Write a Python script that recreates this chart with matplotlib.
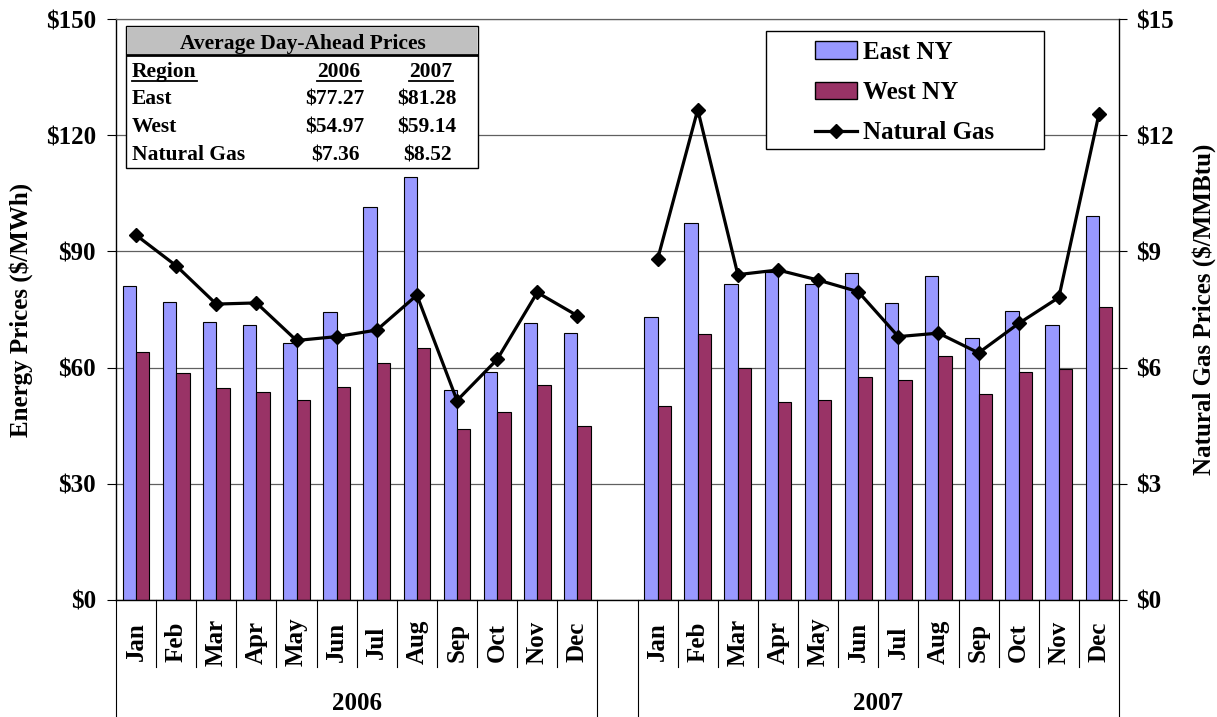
import numpy as np
import matplotlib
matplotlib.use("Agg")
import matplotlib.pyplot as plt
import matplotlib.transforms as mtransforms
from matplotlib.patches import Rectangle, Patch
from matplotlib.lines import Line2D

# ---------------- data ----------------
months = ["Jan", "Feb", "Mar", "Apr", "May", "Jun",
          "Jul", "Aug", "Sep", "Oct", "Nov", "Dec"]
years = ["2006", "2007"]

east_2006 = [81.1, 77.0, 71.7, 71.0, 66.4, 74.4, 101.5, 109.3, 54.1, 58.9, 71.4, 69.0]
west_2006 = [64.0, 58.6, 54.7, 53.7, 51.6, 54.9, 61.2, 65.1, 44.1, 48.5, 55.4, 45.0]
gas_2006 = [9.42, 8.63, 7.64, 7.67, 6.70, 6.80, 6.97, 7.87, 5.15, 6.21, 7.94, 7.34]

east_2007 = [73.0, 97.3, 81.7, 84.8, 81.6, 84.4, 76.8, 83.7, 67.6, 74.7, 71.1, 99.1]
west_2007 = [50.0, 68.8, 60.0, 51.2, 51.7, 57.7, 56.9, 63.0, 53.3, 58.8, 59.7, 75.6]
gas_2007 = [8.80, 12.66, 8.40, 8.52, 8.26, 7.96, 6.80, 6.89, 6.38, 7.14, 7.81, 12.55]

series_labels = ["East NY", "West NY", "Natural Gas"]

table_title = "Average Day-Ahead Prices"
table_header = ["Region", "2006", "2007"]
table_regions = ["East", "West", "Natural Gas"]
table_2006 = ["$77.27", "$54.97", "$7.36"]
table_2007 = ["$81.28", "$59.14", "$8.52"]

left_ticks = [0, 30, 60, 90, 120, 150]
right_ticks = [0, 3, 6, 9, 12, 15]
left_label = "Energy Prices ($/MWh)"
right_label = "Natural Gas Prices ($/MMBtu)"

# ---------------- style ----------------
EAST_C = "#9999FF"
WEST_C = "#993366"
GRID_C = "#606060"
plt.rcParams["font.family"] = ["Liberation Serif", "DejaVu Serif"]
plt.rcParams["font.weight"] = "bold"

W, H = 1217, 717
L, R, T, B = 116, 1119, 19, 600


def fx(px):
    return px / W


def fy(py):
    return 1 - py / H


fig = plt.figure(figsize=(W / 100, H / 100), dpi=100)
ax = fig.add_axes([fx(L), fy(B), (R - L) / W, (B - T) / H])
ax2 = ax.twinx()

n_m = len(months)
x06 = np.arange(n_m)
x07 = np.arange(n_m + 1, 2 * n_m + 1)
n_cat = 2 * n_m + 1
bw = 1 / 3

for xs, e, w in [(x06, east_2006, west_2006), (x07, east_2007, west_2007)]:
    ax.bar(xs - bw / 2, e, bw, color=EAST_C, edgecolor="black", linewidth=0.8, zorder=2)
    ax.bar(xs + bw / 2, w, bw, color=WEST_C, edgecolor="black", linewidth=0.8, zorder=2)

gx = np.concatenate([x06, [n_m], x07])
gy = np.concatenate([gas_2006, [np.nan], gas_2007])
ax2.plot(gx, gy, color="black", lw=2.3, marker="D", ms=7, mfc="black", mec="black", zorder=3)

ax.set_xlim(-0.5, n_cat - 0.5)
ax.set_ylim(left_ticks[0], left_ticks[-1])
ax2.set_ylim(right_ticks[0], right_ticks[-1])
ax.set_yticks(left_ticks)
ax.set_yticklabels([f"${v}" for v in left_ticks])
ax2.set_yticks(right_ticks)
ax2.set_yticklabels([f"${v}" for v in right_ticks])

ax.yaxis.grid(True, color=GRID_C, lw=0.9)
ax.set_axisbelow(True)
ax.tick_params(axis="y", direction="out", length=6.5, width=0.8, pad=8, labelsize=18)
ax2.tick_params(axis="y", direction="out", length=5.5, width=0.8, pad=7, labelsize=18)
ax.set_xticks([])
ax2.set_xticks([])

ax.spines["top"].set_color(GRID_C)
ax.spines["top"].set_linewidth(0.9)
ax.spines["right"].set_visible(False)
for s in ["top", "left", "bottom"]:
    ax2.spines[s].set_visible(False)
ax.spines["left"].set_linewidth(1.0)
ax.spines["bottom"].set_linewidth(1.0)
ax2.spines["right"].set_linewidth(1.0)

# ---------------- multilevel category axis ----------------
trans = mtransforms.blended_transform_factory(ax.transData, ax.transAxes)
ax_h = B - T
month_sep_y = -(667 - B) / ax_h
full_sep_y = -(H + 5 - B) / ax_h
label_y = -(642 - B) / ax_h
year_y = -(703 - B) / ax_h

for xs, yr in [(x06, years[0]), (x07, years[1])]:
    for k, xc in enumerate(xs):
        ax.text(xc, label_y, months[k], rotation=90, ha="center", va="center",
                fontsize=18, fontweight="bold", transform=trans, clip_on=False)
    for b in xs[1:]:
        ax.add_line(Line2D([b - 0.5, b - 0.5], [0, month_sep_y], color="black", lw=0.8,
                           transform=trans, clip_on=False))
    for b in [xs[0] - 0.5, xs[-1] + 0.5]:
        ax.add_line(Line2D([b, b], [0, full_sep_y], color="black", lw=0.8,
                           transform=trans, clip_on=False))
    ax.text((xs[0] + xs[-1]) / 2, year_y, yr, ha="center", va="center",
            fontsize=18, fontweight="bold", transform=trans, clip_on=False)

# axis titles
fig.text(fx(21), fy((T + B) / 2), left_label, rotation=90, ha="center", va="center",
         fontsize=18, fontweight="bold")
fig.text(fx(1204), fy((T + B) / 2), right_label, rotation=90, ha="center", va="center",
         fontsize=18, fontweight="bold")

# ---------------- legend ----------------
fig.patches.append(Rectangle((fx(766), fy(149)), (1044 - 766) / W, (149 - 31) / H,
                             transform=fig.transFigure, facecolor="white",
                             edgecolor="black", lw=1.0, zorder=4))
handles = [Patch(facecolor=EAST_C, edgecolor="black", lw=1.0),
           Patch(facecolor=WEST_C, edgecolor="black", lw=1.0),
           Line2D([], [], color="black", lw=2.3, marker="D", ms=7)]
fig.legend(handles, series_labels, loc="center left",
           bbox_to_anchor=(fx(815), fy(92.5)), bbox_transform=fig.transFigure,
           frameon=False, borderpad=0, borderaxespad=0,
           handlelength=1.68, handleheight=0.68, handletextpad=0.25,
           labelspacing=0.69, prop={"size": 18, "weight": "bold"})

# ---------------- table ----------------
fig.patches.append(Rectangle((fx(126), fy(168)), (478 - 126) / W, (168 - 26) / H,
                             transform=fig.transFigure, facecolor="white",
                             edgecolor="black", lw=1.0, zorder=4))
fig.patches.append(Rectangle((fx(127), fy(54)), (477 - 127) / W, (54 - 27) / H,
                             transform=fig.transFigure, facecolor="#C0C0C0",
                             edgecolor="none", zorder=4.1))
fig.lines.append(Line2D([fx(127), fx(477)], [fy(55), fy(55)], transform=fig.transFigure,
                        color="black", lw=2.0, zorder=4.2))

TFS = 15.5
fig.text(fx(303), fy(49), table_title, ha="center", va="baseline",
         fontsize=TFS, fontweight="bold", zorder=6)
col_x = [132, 339, 431]
val_x = [335, 427]
hdr_texts = []
hdr_texts.append(fig.text(fx(col_x[0]), fy(77), table_header[0], ha="left", va="baseline",
                          fontsize=TFS, fontweight="bold", zorder=6))
for i in (1, 2):
    hdr_texts.append(fig.text(fx(col_x[i]), fy(77), table_header[i], ha="center",
                              va="baseline", fontsize=TFS, fontweight="bold", zorder=6))
row_base = [104, 132, 160]
for r, name in enumerate(table_regions):
    fig.text(fx(col_x[0]), fy(row_base[r]), name, ha="left", va="baseline",
             fontsize=TFS, fontweight="bold", zorder=6)
    fig.text(fx(val_x[0]), fy(row_base[r]), table_2006[r], ha="center", va="baseline",
             fontsize=TFS, fontweight="bold", zorder=6)
    fig.text(fx(val_x[1]), fy(row_base[r]), table_2007[r], ha="center", va="baseline",
             fontsize=TFS, fontweight="bold", zorder=6)

# underline headers
fig.canvas.draw()
renderer = fig.canvas.get_renderer()
for t in hdr_texts:
    bb = t.get_window_extent(renderer)
    fig.lines.append(Line2D([bb.x0 / W, bb.x1 / W], [fy(80.5), fy(80.5)],
                            transform=fig.transFigure, color="black", lw=1.3, zorder=6))

fig.savefig("out.png", dpi=100)
